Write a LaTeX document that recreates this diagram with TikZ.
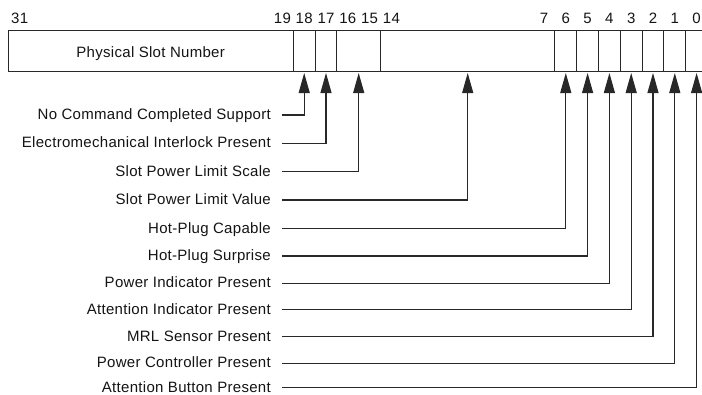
\documentclass[tikz,border=0pt]{standalone}
\usepackage{fontspec}
\setmainfont{Liberation Sans}[LetterSpace=2]
\usepackage{tikz}
\usetikzlibrary{arrows.meta,positioning}
\definecolor{regline}{RGB}{40,40,40}
\definecolor{regtext}{RGB}{20,20,20}

\begin{document}
\begin{tikzpicture}[
    x=1pt, y=-1pt,
    field/.style={draw=regline, line width=1pt, minimum height=41pt, inner sep=0pt, outer sep=0pt, text=regtext, font=\fontsize{15}{17}\selectfont},
    bitcell/.style={field, minimum width=21.8pt},
    bitnum/.style={anchor=base, inner sep=0pt, text=regtext, font=\fontsize{15}{17}\selectfont},
    fieldname/.style={anchor=east, inner sep=0pt, text height=10pt, text depth=1pt, text=regtext, font=\fontsize{15}{17}\selectfont},
    ptr/.style={draw=regline, line width=1.1pt, -{Triangle[length=20pt,width=11pt]}, shorten >=2pt}
]
\useasboundingbox (0,0) rectangle (702,394);

% Register fields
\node[field, minimum width=285.3pt, anchor=north west, text height=14.8pt, text depth=0pt] (phys) at (8,30) {Physical Slot Number};
\node[bitcell, right=0pt of phys] (b18) {};
\node[bitcell, right=0pt of b18] (b17) {};
\node[field, minimum width=43.6pt, right=0pt of b17] (b16) {};
\node[field, minimum width=174.4pt, right=0pt of b16] (b14) {};
\node[bitcell, right=0pt of b14] (b6) {};
\node[bitcell, right=0pt of b6] (b5) {};
\node[bitcell, right=0pt of b5] (b4) {};
\node[bitcell, right=0pt of b4] (b3) {};
\node[bitcell, right=0pt of b3] (b2) {};
\node[bitcell, right=0pt of b2] (b1) {};
\node[bitcell, right=0pt of b1] (b0) {};

% Bit numbers
\node[bitnum, anchor=base west] (n31) at ([xshift=3pt,yshift=6.7pt]phys.north west) {31};
\node[bitnum] (n19) at ([xshift=-10.9pt,yshift=6.7pt]phys.north east) {19};
\node[bitnum] (n18) at ([yshift=6.7pt]b18.north) {18};
\node[bitnum] (n17) at ([yshift=6.7pt]b17.north) {17};
\node[bitnum] (n16) at ([xshift=10.9pt,yshift=6.7pt]b16.north west) {16};
\node[bitnum] (n15) at ([xshift=-10.9pt,yshift=6.7pt]b16.north east) {15};
\node[bitnum] (n14) at ([xshift=10.9pt,yshift=6.7pt]b14.north west) {14};
\node[bitnum] (n7) at ([xshift=-10.9pt,yshift=6.7pt]b14.north east) {7};
\node[bitnum] (n6) at ([yshift=6.7pt]b6.north) {6};
\node[bitnum] (n5) at ([yshift=6.7pt]b5.north) {5};
\node[bitnum] (n4) at ([yshift=6.7pt]b4.north) {4};
\node[bitnum] (n3) at ([yshift=6.7pt]b3.north) {3};
\node[bitnum] (n2) at ([yshift=6.7pt]b2.north) {2};
\node[bitnum] (n1) at ([yshift=6.7pt]b1.north) {1};
\node[bitnum] (n0) at ([yshift=6.7pt]b0.north) {0};

% Field names
\node[fieldname] (nccs) at (271,115) {No Command Completed Support};
\node[fieldname] (emip) at (271,143.3) {Electromechanical Interlock Present};
\node[fieldname] (spls) at (271,171.7) {Slot Power Limit Scale};
\node[fieldname] (splv) at (271,200) {Slot Power Limit Value};
\node[fieldname] (hpc) at (271,228.5) {Hot-Plug Capable};
\node[fieldname] (hps) at (271,256) {Hot-Plug Surprise};
\node[fieldname] (pip) at (271,283.3) {Power Indicator Present};
\node[fieldname] (aip) at (271,309.5) {Attention Indicator Present};
\node[fieldname] (mrlsp) at (271,336.7) {MRL Sensor Present};
\node[fieldname] (pcp) at (271,363.3) {Power Controller Present};
\node[fieldname] (abp) at (271,387.8) {Attention Button Present};

% Arrows
\draw[ptr] ([xshift=11pt]nccs.east) -| (b18.south);
\draw[ptr] ([xshift=11pt]emip.east) -| (b17.south);
\draw[ptr] ([xshift=11pt]spls.east) -| (b16.south);
\draw[ptr] ([xshift=11pt]splv.east) -| (b14.south);
\draw[ptr] ([xshift=11pt]hpc.east) -| (b6.south);
\draw[ptr] ([xshift=11pt]hps.east) -| (b5.south);
\draw[ptr] ([xshift=11pt]pip.east) -| (b4.south);
\draw[ptr] ([xshift=11pt]aip.east) -| (b3.south);
\draw[ptr] ([xshift=11pt]mrlsp.east) -| (b2.south);
\draw[ptr] ([xshift=11pt]pcp.east) -| (b1.south);
\draw[ptr] ([xshift=11pt]abp.east) -| (b0.south);

\end{tikzpicture}
\end{document}
